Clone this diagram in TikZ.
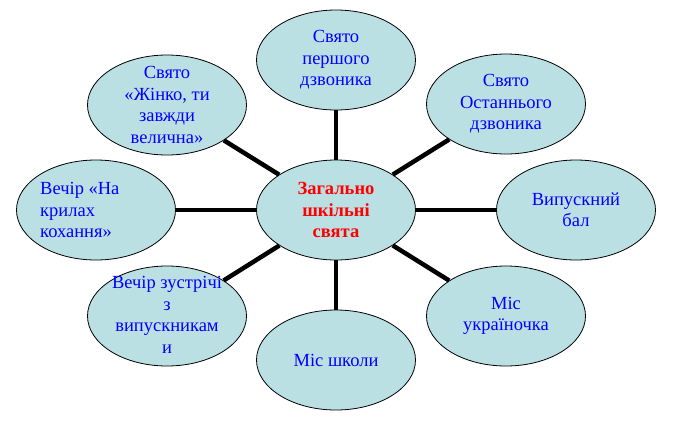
\documentclass[tikz,border=0pt]{standalone}
\usepackage{fontspec}
\setmainfont{Liberation Serif}
\usetikzlibrary{shapes.geometric}
\definecolor{bubfill}{RGB}{187,224,227}
\definecolor{txtblue}{RGB}{0,0,255}
\definecolor{txtred}{RGB}{255,0,0}
\tikzset{
  bub/.style={ellipse, draw=black, line width=0.8pt, fill=bubfill, inner sep=0pt,
    minimum width=159pt, minimum height=100pt},
  txt/.style={text=txtblue, align=center, inner sep=0pt,
    font=\fontsize{18.5}{21.5}\selectfont},
  ctxt/.style={text=txtred, align=center, inner sep=0pt,
    font=\fontsize{18.5}{21.5}\selectfont\bfseries},
  link/.style={line width=4.5pt, black}
}
\begin{document}
\begin{tikzpicture}[x=1pt,y=-1pt]
\useasboundingbox (0,0) rectangle (673,421);
% bubbles
\node[bub] (c)  at (336,210) {};
\node[bub] (n1) at (336,60)  {};
\node[bub] (n2) at (506,104) {};
\node[bub] (n3) at (576,210) {};
\node[bub] (n4) at (506,316) {};
\node[bub] (n5) at (336,360) {};
\node[bub] (n6) at (167,316) {};
\node[bub] (n7) at (96,210)  {};
\node[bub] (n8) at (167,105) {};
% connectors
\foreach \n in {n1,n2,n3,n4,n5,n6,n7,n8}
  \draw[link] (c) -- (\n);
% texts
\node[ctxt] (ct) at (c) {Загально\\шкільні\\свята};
\node[txt] (t1) at (n1) {Свято\\першого\\дзвоника};
\node[txt] (t2) at (n2) {Свято\\Останнього\\дзвоника};
\node[txt] (t3) at (n3) {Випускний\\бал};
\node[txt] (t4) at (n4) {Міс\\україночка};
\node[txt] (t5) at (n5) {Міс школи};
\node[txt] (t6) at ([yshift=1pt]n6) {Вечір зустрічі\\з\\випускникам\\и};
\node[txt, align=left, anchor=west] (t7) at (40,210) {Вечір «На\\крилах\\кохання»};
\node[txt] (t8) at (n8) {Свято\\«Жінко, ти\\завжди\\велична»};
\end{tikzpicture}
\end{document}
